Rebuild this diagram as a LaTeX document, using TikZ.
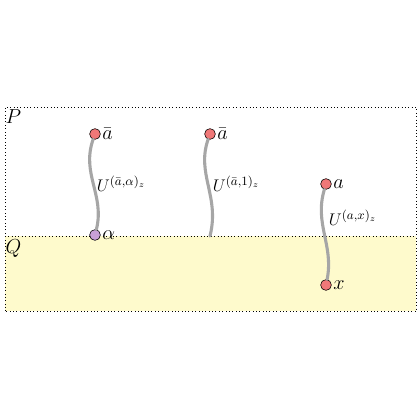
\documentclass[tikz,border=0pt]{standalone}
\usepackage{amsmath,amssymb}
\usepackage{xcolor}
\usepackage{tikz}
\usetikzlibrary{positioning}
\definecolor{pontoverm}{RGB}{240,120,120}
\definecolor{pontoroxo}{RGB}{200,160,215}
\definecolor{fundoq}{RGB}{254,250,204}
\tikzset{
  ponto/.style={circle, draw=black, fill=pontoverm, inner sep=0pt, minimum size=0.27cm, thin},
  fio/.style={draw=gray!70, line width=2.2pt, line cap=round},
  rotulo/.style={font=\fontsize{12.2}{14}\selectfont, anchor=west, inner sep=1pt},
  nome/.style={font=\fontsize{13.5}{16}\selectfont, inner sep=1pt},
}
\begin{document}
\begin{tikzpicture}
  \useasboundingbox (0,0) rectangle (10.5,10.5);
  % regioes P e Q
  \fill[fundoq] (0.125,2.725) rectangle (10.4,4.6);
  \draw[dotted] (0.125,2.725) rectangle (10.4,7.825);
  \draw[dotted] (0.125,4.6) -- (10.4,4.6);
  \node[nome, anchor=north west] (p) at (0.1,7.8) {$P$};
  \node[nome, anchor=north west] (q) at (0.1,4.55) {$Q$};

  % pontos
  \node[ponto, label={[nome]right:$\bar a$}] (a1) at (2.375,7.15) {};
  \node[ponto, fill=pontoroxo, label={[nome]right:$\alpha$}] (al) at (2.375,4.625) {};
  \node[ponto, label={[nome]right:$\bar a$}] (a2) at (5.25,7.15) {};
  \coordinate (b2) at (5.25,4.6);
  \node[ponto, label={[nome]right:$a$}] (a3) at (8.15,5.9) {};
  \node[ponto, label={[nome]right:$x$}] (x3) at (8.15,3.375) {};

  % fios
  \draw[fio] (a1) .. controls +(-0.35,-1.0) and +(0.25,1.0) .. (al);
  \draw[fio] (a2) .. controls +(-0.35,-1.0) and +(0.25,1.0) .. (b2);
  \draw[fio] (a3) .. controls +(-0.3,-1.0) and +(0.2,1.0) .. (x3);

  \node[rotulo] (u1) at (2.38,5.9) {$U^{(\bar a,\alpha)_z}$};
  \node[rotulo] (u2) at (5.28,5.9) {$U^{(\bar a,1)_z}$};
  \node[rotulo] (u3) at (8.18,5.05) {$U^{(a,x)_z}$};
\end{tikzpicture}
\end{document}
